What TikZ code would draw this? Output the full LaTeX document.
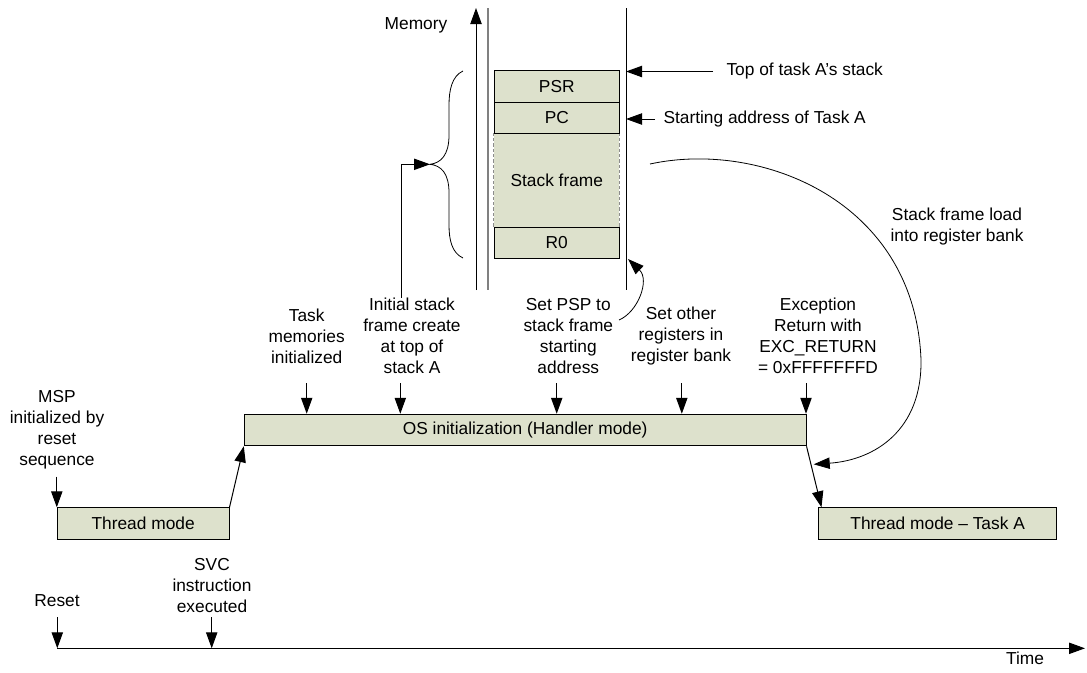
\documentclass[tikz,border=0pt]{standalone}
\usepackage{fontspec}
\setmainfont{Liberation Sans}
\usetikzlibrary{arrows.meta,calc}
\definecolor{modefill}{RGB}{221,225,204}

\begin{document}
\begin{tikzpicture}[
  x=0.75pt,y=-0.75pt,
  line width=0.75pt,
  lab/.style={font=\fontsize{13}{15.75}\selectfont,align=center,inner sep=0pt},
  modebox/.style={lab,draw=black,fill=modefill,minimum height=23.6pt},
  cell/.style={lab,draw=black,fill=modefill,minimum width=93.75pt},
  arr/.style={-{Triangle[length=12pt,width=8.5pt]}},
  thin/.style={line width=0.6pt}
]
\useasboundingbox (0,0) rectangle (1087,672);

% ---- Memoria: axa si stiva task A ----
\coordinate (memlo) at (476,290);
\coordinate (memhi) at (476,8);
\coordinate (stk) at (626,290);
\draw[arr] (memlo) -- (memhi);
\draw[black!50,line width=1pt] (488,8) -- (488,290);
\draw (626,8) -- (stk);
\node[lab] (mem) at (416,25) {Memory};

\node[lab,fill=modefill,minimum width=93.75pt,minimum height=70.8pt] (frm) at (556.8,180.5) {Stack frame};
\draw[black!45,dash pattern=on 2.5pt off 1.5pt]
  (frm.north west) -- (frm.south west) (frm.north east) -- (frm.south east);
\node[cell,minimum height=23.5pt] (psr) at (556.8,86.65) {PSR};
\node[cell,minimum height=23.25pt] (pc) at (556.8,117.8) {PC};
\node[cell,minimum height=23pt] (r0) at (556.8,243) {R0};

% acolada
\coordinate (brtip) at (430,164.3);
\draw[thin] (463,71) .. controls (452,76) and (449,90) .. (449,105) -- (449,135)
  .. controls (449,155) and (441,163) .. (brtip)
  .. controls (441,165.5) and (449,173) .. (449,193) -- (449,225)
  .. controls (449,240) and (452,253) .. (463,258);

% ---- etichete stiva ----
\node[lab,anchor=west] (toplbl) at (726,71.5) {Top of task A’s stack};
\coordinate (topfrom) at (713,71.5);
\draw[arr] (topfrom) -- (topfrom -| stk);
\node[lab,anchor=west] (startlbl) at (663,119) {Starting address of Task A};
\coordinate (startfrom) at (655,119);
\draw[arr] (startfrom) -- (startfrom -| stk);

% ---- moduri ----
\node[modebox,minimum width=421.3pt] (os) at (525.15,430) {OS initialization (Handler mode)};
\node[modebox,minimum width=128.8pt] (thr) at (143.15,523.5) {Thread mode};
\node[modebox,minimum width=178pt] (taska) at (937.65,523.5) {Thread mode – Task A};
\draw[arr] (thr.north east) -- (os.south west);
\draw[arr] (os.south east) -- ($(taska.north west)+(3,0)$);

% ---- evenimente ----
\node[lab] (msp) at (57,430) {MSP\\initialized by\\reset\\sequence};
\node[lab] (taskmem) at (306.7,336.3) {Task\\memories\\initialized};
\node[lab] (initfr) at (412,336) {Initial stack\\frame create\\at top of\\stack A};
\node[lab] (setpsp) at (568.3,336) {Set PSP to\\stack frame\\starting\\address};
\node[lab] (setoth) at (681,336.5) {Set other\\registers in\\register bank};
\node[lab] (excret) at (818,336) {Exception\\Return with\\EXC\_RETURN\\= 0xFFFFFFFD};
\node[lab] (load) at (957,226.4) {Stack frame load\\into register bank};

\draw[arr] (thr.north west |- 0,476.7) -- (thr.north west);
\foreach \x in {306.7,400.3,556.7,681.8,806}
  \draw[arr] (\x,383) -- (\x,383 |- os.north);
\draw[arr] (initfr.north -| 401,0) |- (brtip);

% sageti curbe
\coordinate (pspfrom) at (619,320);
\coordinate (pspto) at (628,259);
\draw[arr,thin] (pspfrom) .. controls (638,312) and (650,280) .. (pspto);
\coordinate (ldfrom) at (650,164);
\coordinate (ldto) at (813.7,464.3);
\draw[arr,thin] (ldfrom) .. controls (760,140) and (915,200) .. (921,360)
  .. controls (922,430) and (875,460) .. (ldto);

% ---- axa timpului ----
\coordinate (t0) at (57.3,648.3);
\coordinate (tsvc) at (211.7,648.3);
\coordinate (tend) at (1085,648.3);
\draw[arr] (t0) -- (tend);
\draw[arr] (t0 |- 0,617.3) -- (t0);
\draw[arr] (tsvc |- 0,617.3) -- (tsvc);
\node[lab] (reset) at (57,601) {Reset};
\node[lab] (svc) at (212,586) {SVC\\instruction\\executed};
\node[lab] (time) at (1025,658) {Time};

\end{tikzpicture}
\end{document}
